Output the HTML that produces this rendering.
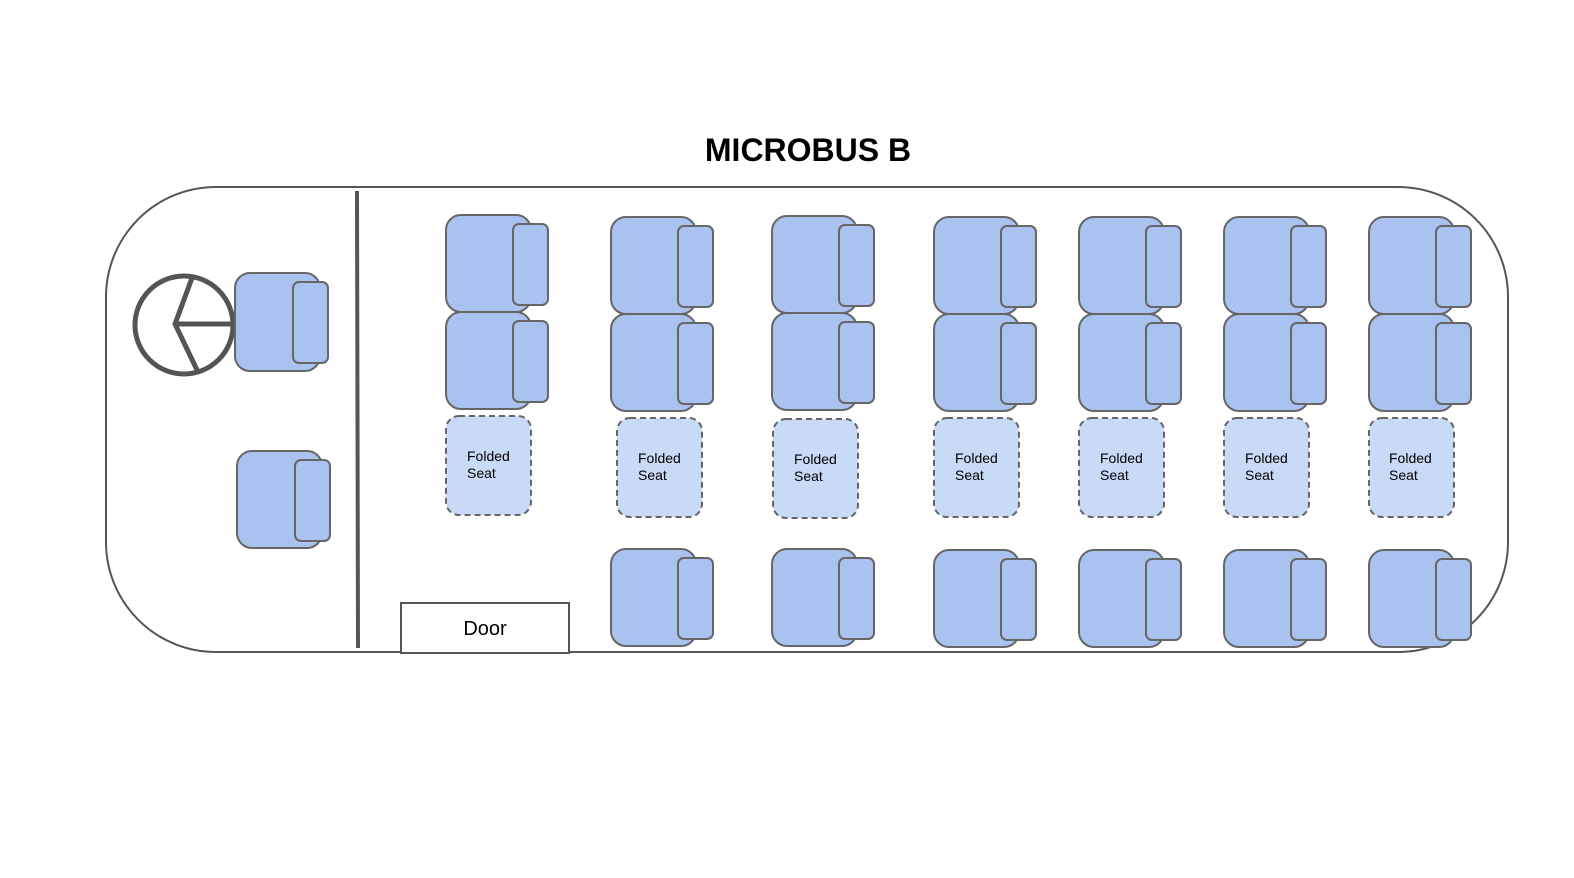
<!DOCTYPE html>
<html><head><meta charset="utf-8"><style>
html,body{margin:0;padding:0;background:#fff;}
svg{display:block;}
.s{fill:#a9c2ef;stroke:#666;stroke-width:2;}
.f{fill:#c9daf6;stroke:#666;stroke-width:2;stroke-dasharray:6,4;}
.t{font-family:"Liberation Sans",Arial,sans-serif;font-size:14px;fill:#000;}
</style></head><body>
<svg width="1574" height="878" viewBox="0 0 1574 878" xmlns="http://www.w3.org/2000/svg">
<defs>
<g id="seat">
<rect class="s" x="0" y="0" width="85" height="97" rx="15"/>
<rect class="s" x="67" y="9" width="35" height="81" rx="6"/>
</g>
<rect id="fold" class="f" x="0" y="0" width="85" height="99" rx="13"/>
</defs>
<text x="808" y="161" text-anchor="middle" style="font-family:'Liberation Sans',Arial,sans-serif;font-weight:bold;font-size:32px;">MICROBUS B</text>
<path d="M216,187 H1398 A110,110 0 0 1 1508,297 V542 A110,110 0 0 1 1398,652 H216 A110,110 0 0 1 106,542 V297 A110,110 0 0 1 216,187 Z" fill="#fff" stroke="#555" stroke-width="2"/>
<line x1="357" y1="191" x2="358" y2="648" stroke="#555" stroke-width="4"/>
<rect x="401" y="603" width="168" height="50" fill="#fff" stroke="#555" stroke-width="2"/>
<text x="485" y="635" text-anchor="middle" style="font-family:'Liberation Sans',Arial,sans-serif;font-size:20px;">Door</text>
<!-- steering wheel -->
<circle cx="184" cy="325" r="49" fill="none" stroke="#555" stroke-width="5"/>
<polyline points="192,278 175,324 198,372" fill="none" stroke="#555" stroke-width="5"/>
<line x1="175" y1="324" x2="232" y2="324" stroke="#555" stroke-width="5"/>
<!-- driver seats -->
<rect class="s" x="235" y="273" width="85" height="98" rx="15"/>
<rect class="s" x="293" y="282" width="35" height="81" rx="6"/>
<rect class="s" x="237" y="451" width="85" height="97" rx="15"/>
<rect class="s" x="295" y="460" width="35" height="81" rx="6"/>
<!-- columns -->
<use href="#seat" x="446" y="215"/><use href="#seat" x="446" y="312"/>
<use href="#seat" x="611" y="217"/><use href="#seat" x="611" y="314"/>
<use href="#seat" x="772" y="216"/><use href="#seat" x="772" y="313"/>
<use href="#seat" x="934" y="217"/><use href="#seat" x="934" y="314"/>
<use href="#seat" x="1079" y="217"/><use href="#seat" x="1079" y="314"/>
<use href="#seat" x="1224" y="217"/><use href="#seat" x="1224" y="314"/>
<use href="#seat" x="1369" y="217"/><use href="#seat" x="1369" y="314"/>
<!-- bottom row -->
<use href="#seat" x="611" y="549"/>
<use href="#seat" x="772" y="549"/>
<use href="#seat" x="934" y="550"/>
<use href="#seat" x="1079" y="550"/>
<use href="#seat" x="1224" y="550"/>
<use href="#seat" x="1369" y="550"/>
<!-- folded -->
<use href="#fold" x="446" y="416"/>
<text class="t" x="467" y="461">Folded</text><text class="t" x="467" y="478">Seat</text>
<use href="#fold" x="617" y="418"/>
<text class="t" x="638" y="463">Folded</text><text class="t" x="638" y="480">Seat</text>
<use href="#fold" x="773" y="419"/>
<text class="t" x="794" y="464">Folded</text><text class="t" x="794" y="481">Seat</text>
<use href="#fold" x="934" y="418"/>
<text class="t" x="955" y="463">Folded</text><text class="t" x="955" y="480">Seat</text>
<use href="#fold" x="1079" y="418"/>
<text class="t" x="1100" y="463">Folded</text><text class="t" x="1100" y="480">Seat</text>
<use href="#fold" x="1224" y="418"/>
<text class="t" x="1245" y="463">Folded</text><text class="t" x="1245" y="480">Seat</text>
<use href="#fold" x="1369" y="418"/>
<text class="t" x="1389" y="463">Folded</text><text class="t" x="1389" y="480">Seat</text>
</svg>
</body></html>
